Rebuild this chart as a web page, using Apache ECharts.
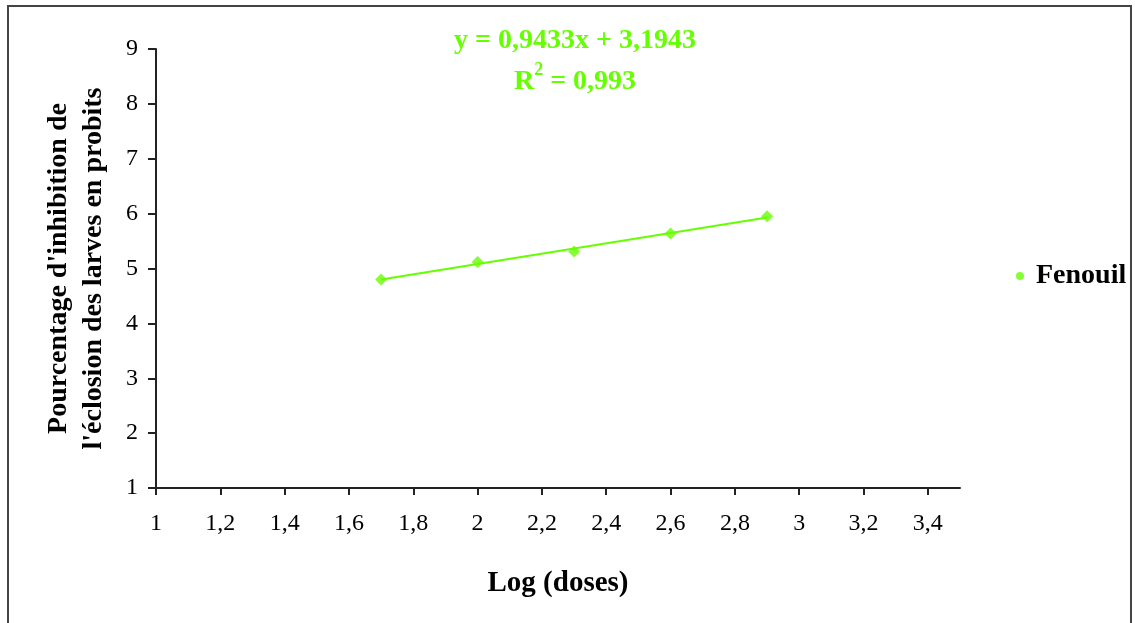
<!DOCTYPE html>
<html>
<head>
<meta charset="utf-8">
<script src="https://cdn.jsdelivr.net/npm/echarts@6/dist/echarts.min.js"></script>
<style>
html,body{margin:0;padding:0;background:#fff;}
#chart{width:1135px;height:623px;}
</style>
</head>
<body>
<div id="chart"></div>
<script>
// Data
var logDoses = [1.7, 2.0, 2.3, 2.6, 2.9];
var probits = [4.80, 5.12, 5.31, 5.64, 5.95];
var seriesName = 'Fenouil';
// Trendline as printed on the chart
var trendSlope = 0.9433;
var trendIntercept = 3.1943;
var trendR2 = 0.993;
var trendX = [1.7, 2.9];

var xTitle = 'Log (doses)';
var yTitleLines = ["Pourcentage d'inhibition de", "l'éclosion des larves en probits"];

function fr(v, d) {
  return String(v.toFixed(d)).replace('.', ',');
}

var points = logDoses.map(function (x, i) { return [x, probits[i]]; });
var trendPts = trendX.map(function (x) { return [x, trendSlope * x + trendIntercept]; });

var GREEN = '#66ff00';
var SERIF = '"Liberation Serif", "Times New Roman", serif';

var chart = echarts.init(document.getElementById('chart'));
chart.setOption({
  animation: false,
  backgroundColor: '#fff',
  textStyle: { fontFamily: SERIF },
  title: {
    text: '{a|y = ' + fr(trendSlope, 4) + 'x + ' + fr(trendIntercept, 4) + '}\n{a|R}{s|2}{a| = ' + fr(trendR2, 3) + '}',
    left: 570,
    textAlign: 'center',
    top: 15,
    textStyle: {
      rich: {
        a: { fontFamily: SERIF, fontWeight: 'bold', fontSize: 28, color: GREEN, lineHeight: 41 },
        s: { fontFamily: SERIF, fontWeight: 'bold', fontSize: 18, color: GREEN, verticalAlign: 'top', lineHeight: 41, padding: [0, 0, 12, 0] }
      }
    }
  },
  legend: {
    data: [{ name: seriesName, icon: 'circle' }],
    left: 1011,
    top: 257,
    itemWidth: 22,
    itemHeight: 8,
    textStyle: { fontFamily: SERIF, fontWeight: 'bold', fontSize: 28, color: '#000' }
  },
  grid: { left: 156, top: 49, right: 175, bottom: 135 },
  xAxis: {
    type: 'value',
    min: 1, max: 3.5, interval: 0.2,
    name: xTitle,
    nameLocation: 'middle',
    nameGap: 81,
    nameTextStyle: { fontFamily: SERIF, fontWeight: 'bold', fontSize: 29, color: '#000' },
    axisLine: { show: true, lineStyle: { color: '#222', width: 2 } },
    axisTick: { show: true, length: 7, lineStyle: { color: '#222', width: 2 } },
    splitLine: { show: false },
    axisLabel: {
      margin: 24, showMaxLabel: false,
      fontFamily: SERIF, fontSize: 24, color: '#000',
      formatter: function (v) { return fr(Math.round(v * 10) / 10, Math.round(v * 10) % 10 === 0 ? 0 : 1); }
    }
  },
  yAxis: {
    type: 'value',
    min: 1, max: 9, interval: 1,
    name: yTitleLines.join('\n'),
    nameLocation: 'middle',
    nameRotate: 90,
    nameGap: 45,
    nameTextStyle: { fontFamily: SERIF, fontWeight: 'bold', fontSize: 28, color: '#000', lineHeight: 35 },
    axisLine: { show: true, lineStyle: { color: '#222', width: 2 } },
    axisTick: { show: true, length: 8, lineStyle: { color: '#222', width: 2 } },
    splitLine: { show: false },
    axisLabel: { margin: 18, fontFamily: SERIF, fontSize: 24, color: '#000' }
  },
  series: [
    {
      name: 'trend',
      type: 'line',
      data: trendPts,
      showSymbol: false,
      symbol: 'none',
      lineStyle: { color: GREEN, width: 2 },
      silent: true,
      z: 2
    },
    {
      name: seriesName,
      type: 'scatter',
      data: points,
      symbol: 'diamond',
      symbolSize: 12,
      itemStyle: { color: GREEN },
      z: 3
    }
  ],
  graphic: [
    {
      type: 'rect',
      shape: { x: 8, y: 6, width: 1123, height: 640 },
      style: { fill: null, stroke: '#444', lineWidth: 2 },
      silent: true
    }
  ]
});
</script>
</body>
</html>
